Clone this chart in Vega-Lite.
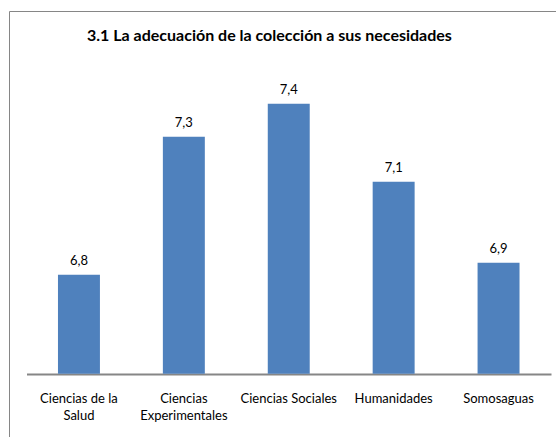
{
  "$schema": "https://vega.github.io/schema/vega-lite/v6.json",
  "autosize": {"type": "none"},
  "padding": {"left": 9, "top": 11, "right": 0, "bottom": 0},
  "width": 570,
  "height": 427,
  "title": {
    "text": "3.1 La adecuación de la colección a sus necesidades",
    "font": "Lato",
    "fontSize": 16,
    "fontWeight": "bold",
    "color": "#000000",
    "anchor": "start",
    "dx": 78,
    "offset": -33
  },
  "data": {
    "values": [
      {"campus": "Ciencias de la Salud", "valor": 6.83},
      {"campus": "Ciencias Experimentales", "valor": 7.29},
      {"campus": "Ciencias Sociales", "valor": 7.40},
      {"campus": "Humanidades", "valor": 7.14},
      {"campus": "Somosaguas", "valor": 6.87}
    ]
  },
  "encoding": {
    "x": {
      "field": "campus",
      "type": "nominal",
      "sort": null,
      "scale": {"range": [17.5, 542], "paddingInner": 0.6, "paddingOuter": 0.3},
      "axis": {
        "title": null,
        "orient": "bottom",
        "offset": -64,
        "labelAngle": 0,
        "labelFont": "Lato",
        "labelFontSize": 13,
        "labelColor": "#000000",
        "labelPadding": 18,
        "labelLineHeight": 17,
        "labelBaseline": "top",
        "labelExpr": "datum.value == 'Ciencias de la Salud' ? ['Ciencias de la', 'Salud'] : datum.value == 'Ciencias Experimentales' ? ['Ciencias', 'Experimentales'] : datum.value",
        "ticks": false,
        "domainColor": "#868686",
        "domainWidth": 2,
        "grid": false
      }
    },
    "y": {
      "field": "valor",
      "type": "quantitative",
      "scale": {"domain": [6.2857, 7.709], "zero": false, "nice": false},
      "axis": null
    }
  },
  "layer": [
    {
      "mark": {"type": "bar", "color": "#4F81BD"},
      "encoding": {"y2": {"datum": 6.5}}
    },
    {
      "mark": {"type": "text", "font": "Lato", "fontSize": 13, "color": "#000000", "baseline": "alphabetic", "dy": -10},
      "encoding": {"text": {"field": "valor", "type": "quantitative", "format": ".1f"}}
    }
  ],
  "config": {
    "locale": {"number": {"decimal": ",", "thousands": ".", "grouping": [3], "currency": ["", " €"]}},
    "view": {"stroke": "#868686", "strokeWidth": 1},
    "background": "#ffffff"
  }
}
